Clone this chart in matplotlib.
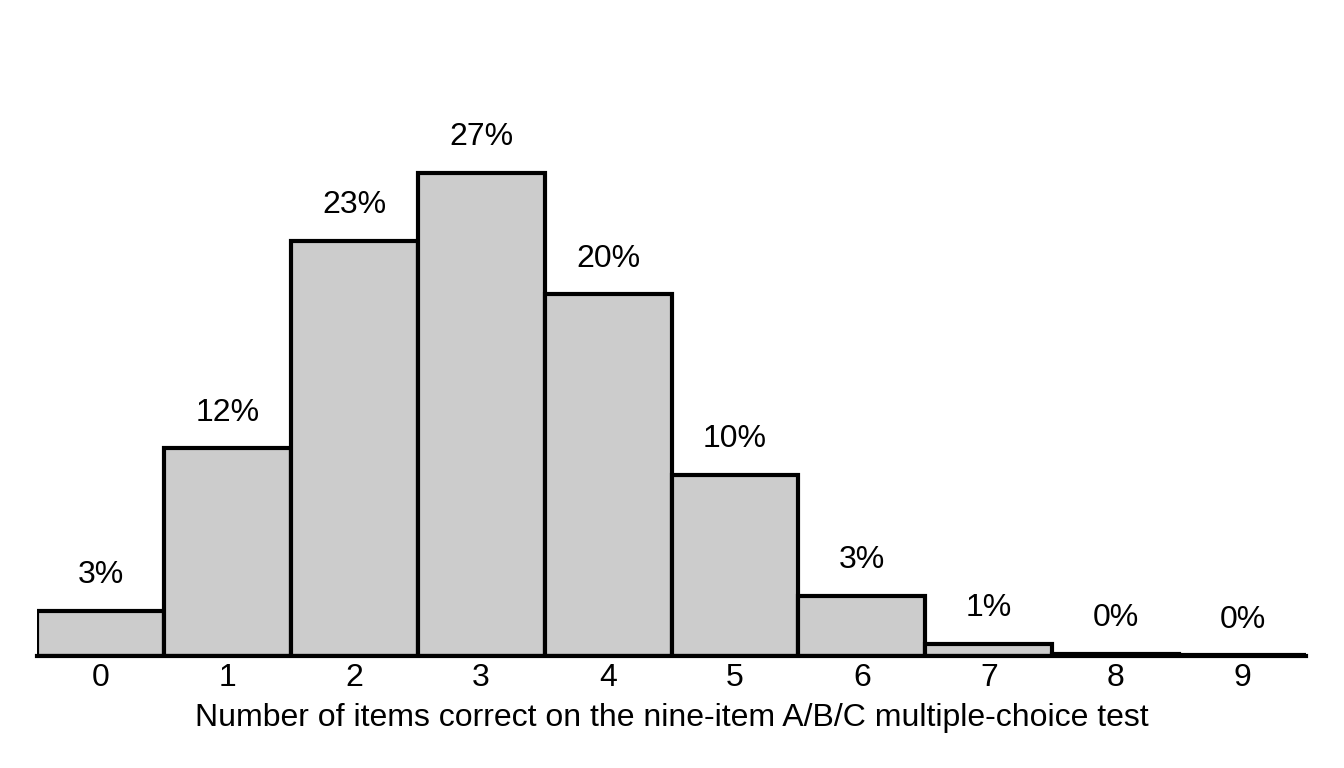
import numpy as np
import matplotlib.pyplot as plt

plt.rcParams['font.family'] = ['Liberation Sans', 'DejaVu Sans']

scores = [0, 1, 2, 3, 4, 5, 6, 7, 8, 9]
percent = [2.5, 11.6, 23.2, 27.0, 20.2, 10.1, 3.35, 0.67, 0.1, 0.03]
labels = ["3%", "12%", "23%", "27%", "20%", "10%", "3%", "1%", "0%", "0%"]

fig = plt.figure(figsize=(13.44, 7.68), dpi=100)
ax = fig.add_axes([37 / 1344, 112 / 768, (1306 - 37) / 1344, (656 - 119) / 768])

ax.bar(scores, percent, width=1.0, color="#cccccc", edgecolor="black", linewidth=3.0)

for x, y, lab in zip(scores, percent, labels):
    ax.annotate(lab, (x, y), xytext=(0, 15), textcoords="offset points",
                ha="center", va="bottom", fontsize=23)

ax.set_xlim(-0.5, 9.5)
ax.set_ylim(0, 30)
ax.set_xticks(scores)
ax.set_xticklabels([str(s) for s in scores], fontsize=23)
ax.tick_params(axis="x", length=0, pad=5)
ax.set_yticks([])
for side in ["top", "right", "left"]:
    ax.spines[side].set_visible(False)
ax.spines["bottom"].set_linewidth(3.0)
ax.set_xlabel("Number of items correct on the nine-item A/B/C multiple-choice test",
              fontsize=23, labelpad=7)

fig.savefig("out.png", dpi=100)
